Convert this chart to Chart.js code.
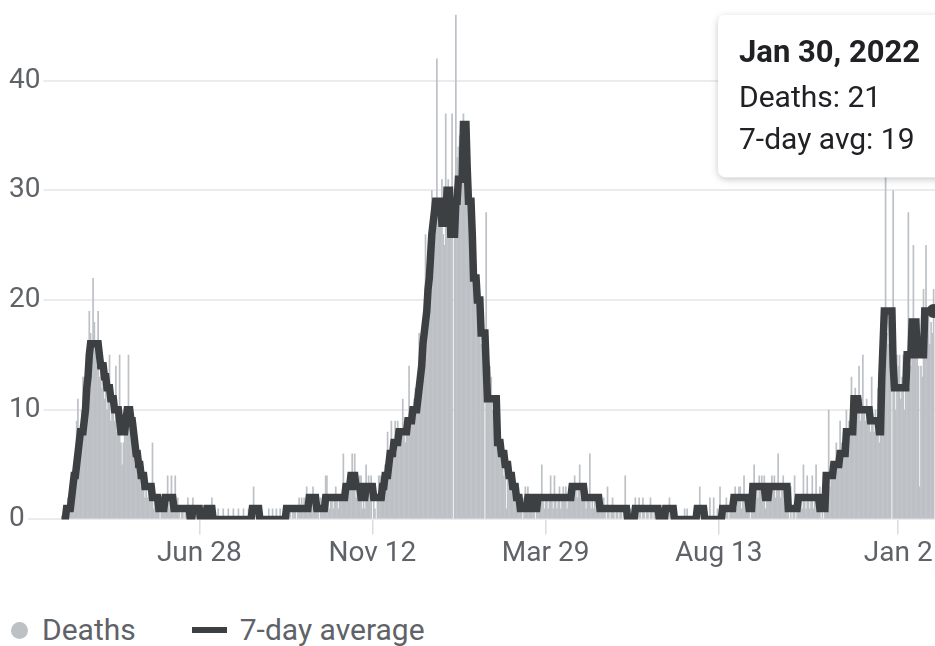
<!DOCTYPE html>
<html>
<head>
<meta charset="utf-8">
<title>Deaths</title>
<script src="https://cdn.jsdelivr.net/npm/chart.js@4.4.1/dist/chart.umd.min.js"></script>
<style>
  html, body { margin: 0; padding: 0; background: #fff; overflow: hidden; }
  #wrap { position: relative; width: 935px; height: 646px; overflow: hidden; }
  #deaths-chart { display: block; }
  #legend {
    position: absolute; left: 11px; top: 612px;
    display: flex; align-items: center;
    font: 30px Roboto, sans-serif; line-height: 36px; color: #5f6368;
    white-space: nowrap;
  }
  .legend-item { display: flex; align-items: center; }
  .legend-item + .legend-item { margin-left: 56px; }
  .legend-dot { width: 17px; height: 17px; border-radius: 50%; margin-right: 14px; }
  .legend-line { width: 35px; height: 6px; margin-right: 13px; }
</style>
</head>
<body>
<div id="wrap">
  <canvas id="deaths-chart" width="960" height="574"></canvas>
  <div id="legend"></div>
</div>
<script>
// first day of the series is Mar 11, 2020, one value per day
const START_DATE = Date.UTC(2020, 2, 11);
const DAY_MS = 86400000;
const MONTHS = ["Jan", "Feb", "Mar", "Apr", "May", "Jun", "Jul", "Aug", "Sep", "Oct", "Nov", "Dec"];

const seriesLabels = ["Deaths", "7-day average"];
const tooltipLabels = ["Deaths", "7-day avg"];

const deaths = [
  0, 0, 1, 0, 1, 2, 1, 3, 2, 4,
  5, 6, 9, 11, 7, 8, 10, 13, 13, 13,
  12, 14, 19, 17, 15, 22, 18, 16, 14, 19,
  13, 14, 12, 13, 11, 12, 10, 11, 15, 9,
  10, 11, 9, 14, 8, 9, 15, 7, 5, 7,
  8, 9, 10, 15, 9, 8, 7, 6, 5, 6,
  4, 5, 4, 3, 4, 3, 2, 3, 2, 3,
  2, 3, 7, 1, 2, 1, 2, 1, 0, 1,
  1, 2, 2, 1, 4, 2, 1, 4, 2, 1,
  4, 1, 2, 1, 0, 1, 1, 0, 1, 1,
  2, 0, 0, 1, 2, 1, 0, 1, 1, 0,
  0, 1, 0, 0, 0, 1, 0, 1, 0, 2,
  1, 0, 0, 0, 1, 0, 0, 0, 1, 0,
  0, 0, 1, 0, 0, 0, 1, 0, 0, 0,
  1, 0, 0, 0, 1, 0, 0, 0, 1, 0,
  1, 1, 3, 1, 0, 1, 1, 0, 0, 0,
  0, 0, 0, 0, 1, 0, 0, 1, 0, 0,
  1, 0, 0, 1, 0, 0, 0, 0, 1, 0,
  1, 1, 0, 1, 1, 1, 0, 1, 2, 1,
  2, 1, 2, 1, 3, 1, 2, 2, 1, 3,
  2, 2, 1, 1, 0, 2, 1, 1, 2, 4,
  4, 2, 1, 2, 2, 1, 2, 3, 2, 1,
  2, 2, 2, 6, 2, 3, 2, 4, 3, 3,
  6, 4, 6, 2, 3, 2, 4, 4, 1, 2,
  1, 5, 3, 4, 3, 4, 0, 2, 1, 0,
  2, 4, 4, 2, 3, 3, 5, 4, 8, 5,
  6, 9, 7, 7, 9, 6, 9, 8, 7, 8,
  11, 8, 7, 9, 9, 14, 10, 9, 10, 11,
  12, 11, 13, 17, 14, 15, 16, 18, 26, 20,
  22, 24, 25, 30, 28, 27, 28, 42, 29, 27,
  28, 31, 26, 25, 37, 30, 31, 29, 27, 37,
  0, 27, 46, 33, 34, 35, 32, 36, 37, 35,
  33, 30, 28, 27, 27, 22, 27, 20, 20, 19,
  20, 18, 16, 15, 17, 0, 28, 12, 11, 14,
  13, 10, 10, 11, 11, 8, 11, 7, 6, 5,
  4, 6, 1, 5, 4, 3, 3, 4, 3, 2,
  3, 2, 1, 1, 1, 0, 2, 3, 1, 3,
  2, 1, 2, 1, 1, 0, 2, 2, 1, 2,
  5, 2, 1, 2, 2, 1, 2, 4, 2, 1,
  4, 2, 1, 2, 3, 1, 2, 3, 2, 3,
  1, 2, 3, 2, 3, 2, 4, 3, 2, 3,
  5, 2, 3, 2, 2, 1, 2, 2, 6, 1,
  2, 1, 2, 1, 2, 1, 1, 2, 1, 2,
  1, 0, 3, 1, 0, 1, 2, 1, 0, 1,
  1, 0, 1, 1, 0, 1, 4, 1, 0, 0,
  1, 0, 0, 0, 2, 0, 1, 2, 1, 0,
  2, 1, 0, 1, 1, 0, 2, 1, 0, 1,
  1, 0, 1, 0, 0, 1, 0, 0, 1, 1,
  0, 2, 1, 0, 1, 0, 0, 0, 0, 0,
  0, 0, 0, 1, 0, 1, 0, 0, 0, 0,
  0, 0, 0, 1, 0, 3, 1, 0, 1, 0,
  0, 0, 0, 2, 0, 0, 2, 0, 0, 1,
  0, 3, 0, 1, 0, 1, 2, 1, 0, 1,
  1, 2, 2, 3, 1, 2, 3, 3, 1, 2,
  4, 2, 1, 2, 1, 0, 2, 3, 5, 2,
  3, 2, 4, 3, 4, 2, 4, 1, 2, 2,
  3, 2, 4, 3, 4, 2, 3, 6, 3, 2,
  3, 4, 3, 2, 3, 1, 0, 3, 0, 1,
  4, 0, 1, 2, 1, 2, 1, 5, 2, 1,
  4, 2, 1, 2, 4, 1, 2, 5, 2, 1,
  3, 0, 1, 0, 4, 3, 4, 10, 3, 4,
  5, 5, 4, 7, 5, 6, 9, 7, 6, 8,
  7, 10, 8, 9, 9, 13, 10, 11, 12, 10,
  11, 14, 9, 11, 15, 10, 9, 11, 10, 9,
  8, 13, 9, 8, 10, 9, 12, 7, 9, 14,
  16, 18, 34, 17, 16, 18, 17, 0, 30, 12,
  10, 15, 14, 15, 11, 13, 15, 10, 12, 13,
  28, 12, 14, 16, 25, 17, 18, 15, 14, 3,
  14, 13, 21, 18, 25, 17, 19, 16, 18, 17,
  21,
];

const sevenDayAvg = [
  0, 0, 0, 0, 1, 1, 1, 1, 2, 3,
  4, 4, 5, 6, 7, 8, 8, 8, 9, 10,
  12, 13, 15, 16, 16, 16, 16, 16, 16, 16,
  15, 14, 14, 14, 13, 13, 12, 12, 12, 11,
  11, 11, 10, 10, 10, 10, 9, 8, 8, 8,
  8, 9, 10, 10, 10, 9, 9, 8, 7, 6,
  6, 5, 5, 4, 4, 4, 3, 3, 3, 3,
  3, 3, 2, 2, 2, 2, 2, 1, 1, 1,
  1, 1, 2, 2, 2, 2, 2, 2, 2, 1,
  1, 1, 1, 1, 1, 1, 1, 1, 1, 1,
  1, 1, 0, 0, 1, 1, 1, 1, 1, 1,
  0, 0, 0, 0, 0, 1, 1, 1, 1, 1,
  0, 0, 0, 0, 0, 0, 0, 0, 0, 0,
  0, 0, 0, 0, 0, 0, 0, 0, 0, 0,
  0, 0, 0, 0, 0, 0, 0, 0, 0, 0,
  0, 1, 1, 1, 1, 1, 1, 0, 0, 0,
  0, 0, 0, 0, 0, 0, 0, 0, 0, 0,
  0, 0, 0, 0, 0, 0, 0, 0, 1, 1,
  1, 1, 1, 1, 1, 1, 1, 1, 1, 1,
  1, 1, 1, 1, 1, 1, 2, 2, 2, 2,
  2, 2, 1, 1, 1, 1, 1, 1, 1, 2,
  2, 2, 2, 2, 2, 2, 2, 2, 2, 2,
  2, 2, 2, 2, 2, 3, 3, 3, 3, 4,
  4, 4, 4, 3, 3, 3, 3, 2, 2, 2,
  2, 3, 3, 3, 3, 3, 3, 2, 2, 2,
  2, 2, 2, 2, 3, 3, 4, 4, 4, 5,
  6, 6, 6, 7, 7, 7, 7, 8, 8, 8,
  8, 8, 8, 8, 9, 9, 9, 9, 10, 10,
  10, 10, 11, 12, 13, 14, 16, 17, 18, 19,
  21, 22, 24, 26, 27, 28, 29, 29, 29, 29,
  29, 27, 27, 27, 27, 30, 30, 30, 26, 26,
  26, 26, 29, 29, 31, 31, 31, 31, 36, 36,
  36, 32, 29, 29, 29, 26, 22, 22, 22, 20,
  20, 20, 17, 17, 17, 17, 14, 11, 11, 11,
  11, 11, 11, 11, 11, 7, 7, 7, 6, 6,
  6, 5, 5, 5, 4, 4, 4, 3, 3, 3,
  2, 2, 2, 1, 1, 1, 1, 1, 1, 2,
  2, 2, 2, 1, 1, 1, 1, 2, 2, 2,
  2, 2, 2, 2, 2, 2, 2, 2, 2, 2,
  2, 2, 2, 2, 2, 2, 2, 2, 2, 2,
  2, 2, 2, 2, 3, 3, 3, 3, 3, 3,
  3, 3, 3, 3, 2, 2, 2, 2, 2, 2,
  2, 2, 2, 2, 2, 2, 1, 1, 1, 1,
  1, 1, 1, 1, 1, 1, 1, 1, 1, 1,
  1, 1, 1, 1, 1, 1, 1, 1, 0, 0,
  0, 0, 0, 0, 1, 1, 1, 1, 1, 1,
  1, 1, 1, 1, 1, 1, 1, 1, 1, 1,
  1, 1, 1, 0, 0, 0, 0, 0, 1, 1,
  1, 1, 1, 1, 1, 0, 0, 0, 0, 0,
  0, 0, 0, 0, 0, 0, 0, 0, 0, 0,
  0, 0, 0, 1, 1, 1, 1, 1, 1, 0,
  0, 0, 0, 0, 0, 0, 0, 0, 0, 0,
  0, 0, 0, 1, 1, 1, 1, 1, 1, 1,
  1, 1, 2, 2, 2, 2, 2, 2, 2, 2,
  2, 2, 2, 2, 1, 1, 1, 3, 3, 3,
  3, 3, 3, 3, 3, 3, 3, 2, 2, 2,
  3, 3, 3, 3, 3, 3, 3, 3, 3, 3,
  3, 3, 3, 3, 3, 1, 1, 1, 1, 1,
  1, 1, 1, 2, 2, 2, 2, 2, 2, 2,
  2, 2, 2, 2, 2, 2, 2, 2, 2, 2,
  1, 1, 1, 1, 1, 4, 4, 4, 4, 4,
  4, 5, 5, 5, 5, 5, 6, 6, 6, 6,
  6, 8, 8, 8, 8, 8, 8, 11, 11, 11,
  11, 10, 10, 10, 10, 10, 10, 10, 10, 10,
  9, 9, 9, 9, 9, 9, 9, 8, 8, 13,
  16, 19, 19, 19, 19, 19, 19, 19, 14, 12,
  12, 12, 12, 12, 12, 12, 12, 12, 12, 15,
  15, 15, 15, 18, 18, 18, 18, 15, 15, 15,
  15, 15, 15, 19, 19, 19, 19, 19, 19, 19,
  19,
];

const xTickDates = ["2020-06-28", "2020-11-12", "2021-03-29", "2021-08-13", "2022-01-02"];
const xTickLabels = ["Jun 28", "Nov 12", "Mar 29", "Aug 13", "Jan 2"];
const yTickValues = [0, 10, 20, 30, 40];

const X_MIN = -43.9;
const X_MAX = 707.9;
const Y_MAX = 47;

const BAR_COLOR = "#bdc1c6";
const LINE_COLOR = "#3c4043";
const LABEL_COLOR = "#5f6368";

function dayIndex(isoDate) {
  return Math.round((Date.parse(isoDate) - START_DATE) / DAY_MS);
}

function formatDay(index) {
  const date = new Date(START_DATE + index * DAY_MS);
  return `${MONTHS[date.getUTCMonth()]} ${date.getUTCDate()}, ${date.getUTCFullYear()}`;
}

// tooltip box sits at the top right, as in the app
Chart.Tooltip.positioners.topRight = function () {
  return { x: 726, y: 15 };
};

const tooltipShadow = {
  id: "tooltipShadow",
  beforeTooltipDraw(chart, args) {
    const tip = args.tooltip;
    if (!tip.opacity) {
      return;
    }
    const ctx = chart.ctx;
    ctx.save();
    ctx.shadowColor = "rgba(60, 64, 67, 0.3)";
    ctx.shadowBlur = 7;
    ctx.shadowOffsetY = 2;
    ctx.fillStyle = "#fff";
    ctx.beginPath();
    ctx.roundRect(tip.x, tip.y, tip.width, tip.height, 8);
    ctx.fill();
    ctx.restore();
  },
};

function buildLegend(chart) {
  const legendEl = document.getElementById("legend");
  chart.data.datasets.forEach((dataset) => {
    const item = document.createElement("div");
    item.className = "legend-item";
    const icon = document.createElement("span");
    const isLine = dataset.type === "line";
    icon.className = isLine ? "legend-line" : "legend-dot";
    icon.style.background = isLine ? dataset.borderColor : dataset.backgroundColor;
    const text = document.createElement("span");
    text.textContent = dataset.label;
    item.append(icon, text);
    legendEl.append(item);
  });
}

function createChart() {
  Chart.defaults.font.family = "Roboto, 'Noto Sans', sans-serif";
  Chart.defaults.color = LABEL_COLOR;

  const canvas = document.getElementById("deaths-chart");
  const chart = new Chart(canvas.getContext("2d"), {
    type: "bar",
    data: {
      labels: deaths.map((_, i) => i),
      datasets: [
        {
          type: "bar",
          label: seriesLabels[0],
          data: deaths,
          backgroundColor: BAR_COLOR,
          hoverBackgroundColor: BAR_COLOR,
          borderWidth: 0,
          barPercentage: 1.35,
          categoryPercentage: 1,
          order: 2,
        },
        {
          type: "line",
          label: seriesLabels[1],
          data: sevenDayAvg,
          borderColor: LINE_COLOR,
          backgroundColor: LINE_COLOR,
          borderWidth: 7.5,
          borderJoinStyle: "miter",
          tension: 0,
          pointRadius: 0,
          pointHoverRadius: 7,
          pointHoverBorderWidth: 0,
          pointHoverBackgroundColor: LINE_COLOR,
          order: 1,
        },
      ],
    },
    options: {
      responsive: false,
      animation: false,
      events: [],
      layout: { padding: 0 },
      scales: {
        x: {
          type: "linear",
          min: X_MIN,
          max: X_MAX,
          offset: false,
          afterBuildTicks: (scale) => {
            scale.ticks = xTickDates.map((d) => ({ value: dayIndex(d) }));
          },
          afterFit: (scale) => {
            scale.paddingLeft = 0;
            scale.paddingRight = 0;
          },
          border: { display: false },
          grid: {
            offset: false,
            drawOnChartArea: false,
            drawTicks: true,
            tickLength: 15,
            color: "#dadce0",
            lineWidth: 1.5,
          },
          ticks: {
            autoSkip: false,
            maxRotation: 0,
            padding: 3,
            color: LABEL_COLOR,
            font: { size: 28 },
            callback: (value, index) => xTickLabels[index],
          },
        },
        y: {
          min: 0,
          max: Y_MAX,
          afterBuildTicks: (scale) => {
            scale.ticks = yTickValues.map((v) => ({ value: v }));
          },
          afterFit: (scale) => {
            scale.paddingTop = 0;
            scale.paddingBottom = 0;
          },
          border: { display: false },
          grid: { color: "#ebebeb", lineWidth: 2, drawTicks: false },
          ticks: {
            mirror: true,
            padding: 3,
            color: LABEL_COLOR,
            font: { size: 28 },
            showLabelBackdrop: true,
            backdropColor: "#fff",
            backdropPadding: { left: 9, right: 3, top: 2, bottom: 2 },
          },
        },
      },
      plugins: {
        legend: { display: false },
        tooltip: {
          position: "topRight",
          xAlign: "left",
          yAlign: "top",
          caretSize: 0,
          caretPadding: 0,
          cornerRadius: 8,
          backgroundColor: "#fff",
          borderWidth: 0,
          titleColor: "#202124",
          bodyColor: "#202124",
          titleFont: { size: 31, weight: "bold" },
          bodyFont: { size: 30 },
          titleMarginBottom: 8,
          bodySpacing: 6,
          padding: { top: 21, bottom: 18, left: 21, right: 32 },
          displayColors: false,
          callbacks: {
            title: (items) => formatDay(items[0].dataIndex),
            label: (item) => `${tooltipLabels[item.datasetIndex]}: ${item.formattedValue}`,
          },
        },
      },
    },
    plugins: [tooltipShadow],
  });

  const last = deaths.length - 1;
  const active = [
    { datasetIndex: 0, index: last },
    { datasetIndex: 1, index: last },
  ];
  chart.setActiveElements(active);
  chart.tooltip.setActiveElements(active, { x: 0, y: 0 });
  chart.update();

  buildLegend(chart);
}

window.addEventListener("DOMContentLoaded", createChart);
</script>
</body>
</html>
